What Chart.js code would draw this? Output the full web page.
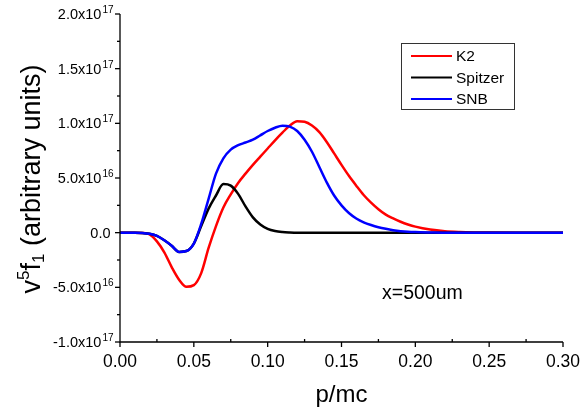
<!DOCTYPE html>
<html>
<head>
<meta charset="utf-8">
<script src="https://cdn.jsdelivr.net/npm/chart.js@4/dist/chart.umd.min.js"></script>
<style>
  html, body { margin: 0; padding: 0; background: #fff; }
  #wrap { width: 583px; height: 408px; }
</style>
</head>
<body>
<div id="wrap"><canvas id="chart" width="583" height="408"></canvas></div>
<script>
// p/mc values and curves in units of 1e16
const pValues = [0, 0.01, 0.015, 0.02, 0.025, 0.03, 0.035, 0.04, 0.045, 0.05,
  0.055, 0.06, 0.065, 0.07, 0.075, 0.08, 0.085, 0.09, 0.095, 0.1,
  0.105, 0.11, 0.115, 0.12, 0.125, 0.13, 0.135, 0.14, 0.145, 0.15,
  0.155, 0.16, 0.165, 0.17, 0.175, 0.18, 0.185, 0.19, 0.195, 0.2,
  0.21, 0.22, 0.23, 0.24, 0.25, 0.27, 0.3];
const k2Values = [0, 0, -0.03, -0.15, -0.8, -1.8, -3.15, -4.3, -4.95, -4.8,
  -3.7, -1.4, 0.6, 2.3, 3.5, 4.55, 5.4, 6.2, 6.95, 7.7,
  8.45, 9.15, 9.8, 10.2, 10.15, 9.8, 9.2, 8.3, 7.25, 6.2,
  5.2, 4.3, 3.45, 2.75, 2.15, 1.65, 1.3, 1.0, 0.75, 0.55,
  0.28, 0.13, 0.06, 0.025, 0.01, 0, 0];
const spitzerValues = [0, 0, -0.02, -0.1, -0.3, -0.7, -1.2, -1.76, -1.68, -1.0,
  0.6, 2.2, 3.4, 4.45, 4.3, 3.55, 2.4, 1.4, 0.75, 0.35,
  0.15, 0.06, 0.02, 0, 0, 0, 0, 0, 0, 0,
  0, 0, 0, 0, 0, 0, 0, 0, 0, 0,
  0, 0, 0, 0, 0, 0, 0];
const snbValues = [0, 0, -0.02, -0.1, -0.3, -0.7, -1.2, -1.76, -1.68, -1.0,
  0.8, 3.1, 5.4, 6.8, 7.6, 8.0, 8.25, 8.5, 8.9, 9.3,
  9.6, 9.78, 9.7, 9.3, 8.5, 7.4, 6.0, 4.6, 3.4, 2.5,
  1.8, 1.3, 0.95, 0.7, 0.5, 0.35, 0.23, 0.14, 0.08, 0.05,
  0.02, 0, 0, 0, 0, 0, 0];
const unit = 1e16;

const seriesNames = ["K2", "Spitzer", "SNB"];
const seriesColors = ["#ff0000", "#000000", "#0000ff"];

const xTickValues = [0, 0.05, 0.1, 0.15, 0.2, 0.25, 0.3];
const xTickLabels = ["0.00", "0.05", "0.10", "0.15", "0.20", "0.25", "0.30"];
const yTickValues = [-1e17, -5e16, 0, 5e16, 1e17, 1.5e17, 2e17];
const yTickMantissa = ["-1.0", "-5.0", "0.0", "5.0", "1.0", "1.5", "2.0"];
const yTickPower = ["17", "16", "", "16", "17", "17", "17"];

const FONT = '"Liberation Sans", Arial, sans-serif';

function toPoints(values) {
  return values.map((v, i) => ({ x: pValues[i], y: v * unit }));
}

const decorations = {
  id: "decorations",
  afterDraw(chart) {
    const ctx = chart.ctx;
    const xs = chart.scales.x;
    const ys = chart.scales.y;
    const area = chart.chartArea;
    ctx.save();
    ctx.strokeStyle = "#000";
    ctx.fillStyle = "#000";
    ctx.lineWidth = 1.3;

    // axis lines
    ctx.beginPath();
    ctx.moveTo(area.left, area.top);
    ctx.lineTo(area.left, area.bottom);
    ctx.lineTo(area.right, area.bottom);
    ctx.stroke();

    // y ticks
    yTickValues.forEach((v, i) => {
      const y = ys.getPixelForValue(v);
      ctx.beginPath();
      ctx.moveTo(area.left - 5, y);
      ctx.lineTo(area.left, y);
      ctx.stroke();
      if (i < yTickValues.length - 1) {
        const ym = ys.getPixelForValue((v + yTickValues[i + 1]) / 2);
        ctx.beginPath();
        ctx.moveTo(area.left - 3, ym);
        ctx.lineTo(area.left, ym);
        ctx.stroke();
      }
    });
    // x ticks
    xTickValues.forEach((v, i) => {
      const x = xs.getPixelForValue(v);
      ctx.beginPath();
      ctx.moveTo(x, area.bottom);
      ctx.lineTo(x, area.bottom + 5);
      ctx.stroke();
      if (i < xTickValues.length - 1) {
        const xm = xs.getPixelForValue((v + xTickValues[i + 1]) / 2);
        ctx.beginPath();
        ctx.moveTo(xm, area.bottom - 3);
        ctx.lineTo(xm, area.bottom);
        ctx.stroke();
      }
    });

    // y tick labels with powers of ten
    ctx.textBaseline = "alphabetic";
    ctx.textAlign = "right";
    yTickValues.forEach((v, i) => {
      const y = ys.getPixelForValue(v);
      if (yTickPower[i]) {
        ctx.font = "10px " + FONT;
        const pw = ctx.measureText(yTickPower[i]).width;
        ctx.fillText(yTickPower[i], 113.5, y - 1);
        ctx.font = "14.5px " + FONT;
        ctx.fillText(yTickMantissa[i] + "x10", 112.5 - pw, y + 5);
      } else {
        ctx.font = "14.5px " + FONT;
        ctx.fillText(yTickMantissa[i], 110.5, y + 5);
      }
    });

    // x tick labels
    ctx.textAlign = "center";
    ctx.font = "17.5px " + FONT;
    xTickValues.forEach((v, i) => {
      ctx.fillText(xTickLabels[i], xs.getPixelForValue(v), 367);
    });

    // x title
    ctx.font = "24px " + FONT;
    ctx.fillText("p/mc", (area.left + area.right) / 2, 402);

    // y title: v^5 f_1 (arbitrary units)
    const parts = [
      { t: "v", size: 27, dy: 0 },
      { t: "5", size: 17, dy: -11 },
      { t: "f", size: 27, dy: 0 },
      { t: "1", size: 17, dy: 4 },
      { t: " (arbitrary units)", size: 27, dy: 0 },
    ];
    let total = 0;
    parts.forEach((p) => {
      ctx.font = p.size + "px " + FONT;
      p.w = ctx.measureText(p.t).width;
      total += p.w;
    });
    ctx.translate(40, 179);
    ctx.rotate(-Math.PI / 2);
    ctx.textAlign = "left";
    let px = -total / 2;
    parts.forEach((p) => {
      ctx.font = p.size + "px " + FONT;
      ctx.fillText(p.t, px, p.dy);
      px += p.w;
    });
    ctx.setTransform(1, 0, 0, 1, 0, 0);
    ctx.scale(chart.currentDevicePixelRatio, chart.currentDevicePixelRatio);

    // legend
    ctx.lineWidth = 1;
    ctx.strokeStyle = "#333";
    ctx.strokeRect(401.5, 43.5, 113, 66);
    ctx.font = "15.5px " + FONT;
    ctx.textBaseline = "middle";
    seriesNames.forEach((name, i) => {
      const y = 56 + i * 21.5;
      ctx.strokeStyle = seriesColors[i];
      ctx.lineWidth = 2;
      ctx.beginPath();
      ctx.moveTo(411, y);
      ctx.lineTo(452, y);
      ctx.stroke();
      ctx.fillStyle = "#000";
      ctx.fillText(name, 456, y + 1);
    });

    // note
    ctx.font = "19.5px " + FONT;
    ctx.textBaseline = "alphabetic";
    ctx.fillText("x=500um", 382, 299);
    ctx.restore();
  },
};

new Chart(document.getElementById("chart"), {
  type: "line",
  data: {
    datasets: [
      { label: seriesNames[0], data: toPoints(k2Values), borderColor: seriesColors[0], order: 3 },
      { label: seriesNames[1], data: toPoints(spitzerValues), borderColor: seriesColors[1], order: 2 },
      { label: seriesNames[2], data: toPoints(snbValues), borderColor: seriesColors[2], order: 1 },
    ],
  },
  options: {
    responsive: false,
    animation: false,
    layout: { padding: { left: 120, right: 20, top: 14, bottom: 66 } },
    elements: {
      point: { radius: 0 },
      line: { borderWidth: 2.5, cubicInterpolationMode: "monotone", fill: false },
    },
    plugins: { legend: { display: false }, tooltip: { enabled: false } },
    scales: {
      x: { type: "linear", min: 0, max: 0.3, display: false },
      y: { type: "linear", min: -1e17, max: 2e17, display: false },
    },
  },
  plugins: [decorations],
});
</script>
</body>
</html>
